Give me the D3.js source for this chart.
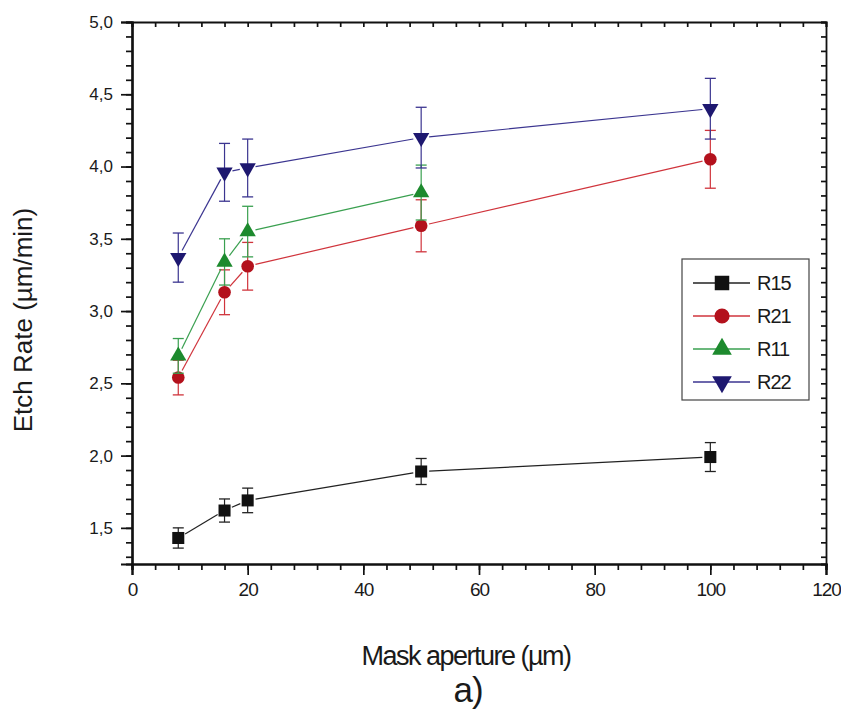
<!DOCTYPE html>
<html>
<head>
<meta charset="utf-8">
<script src="https://cdn.jsdelivr.net/npm/d3@7"></script>
<style>
  body { margin: 0; background: #fff; }
  text { font-family: "Liberation Sans", Arial, sans-serif; fill: #1a1a1a; }
  .yax .tick text { font-size: 17px !important; }
  .xax .tick text { font-size: 19px !important; letter-spacing: -1px; }
</style>
</head>
<body>
<div id="chart"></div>
<script>
// data
var apertures = [8, 16, 20, 50, 100];
var seriesNames = ["R15", "R21", "R11", "R22"];
var r15 = [1.43, 1.62, 1.69, 1.89, 1.99];
var r15Err = [0.07, 0.08, 0.085, 0.09, 0.1];
var r21 = [2.54, 3.13, 3.31, 3.59, 4.05];
var r21Err = [0.12, 0.155, 0.165, 0.18, 0.2];
var r11 = [2.69, 3.34, 3.55, 3.82];
var r11Err = [0.12, 0.16, 0.175, 0.19];
var r22 = [3.37, 3.96, 3.99, 4.20, 4.40];
var r22Err = [0.17, 0.2, 0.2, 0.21, 0.21];
var xTicks = [0, 20, 40, 60, 80, 100, 120];
var yTicks = [1.5, 2.0, 2.5, 3.0, 3.5, 4.0, 4.5, 5.0];

var W = 841, H = 710;
var margin = {left: 132, right: 15, top: 22, bottom: 146};

var svg = d3.select("#chart").append("svg")
    .attr("width", W).attr("height", H);

var x = d3.scaleLinear().domain([0, 120]).range([margin.left, W - margin.right]);
var y = d3.scaleLinear().domain([1.25, 5.0]).range([H - margin.bottom, margin.top]);

var fmt = function(d){ return d3.format(".1f")(d).replace(".", ","); };

// build series table for the drawing code
var colors = ["#111111", "#b3111c", "#1d8a2e", "#1e1870"];
var lineColors = ["#222222", "#d0343c", "#3aa050", "#3b3590"];
var shapes = ["square", "circle", "up", "down"];
var valueLists = [r15, r21, r11, r22];
var errLists = [r15Err, r21Err, r11Err, r22Err];
var series = seriesNames.map(function(n, k){
    return {name: n, color: colors[k], line: lineColors[k], shape: shapes[k],
        points: valueLists[k].map(function(v, i){ return {x: apertures[i], y: v, e: errLists[k][i]}; })};
});

function symbolFor(shape, big){
    var f = big ? 1.45 : 1;
    if (shape == "square") return d3.symbol().type(d3.symbolSquare).size(145 * f);
    if (shape == "circle") return d3.symbol().type(d3.symbolCircle).size(125 * f);
    return d3.symbol().type(d3.symbolTriangle).size(115 * f);
}
function transformFor(shape, px, py){
    if (shape == "down") return "translate(" + px + "," + py + ") rotate(180)";
    return "translate(" + px + "," + py + ")";
}

// axes
var xMinor = d3.range(0, 121, 4);
var yMinor = d3.range(1.3, 5.0001, 0.1);

var bottomAxis = svg.append("g").attr("class", "xax").attr("transform", "translate(0," + y.range()[0] + ")");
bottomAxis.call(d3.axisBottom(x).tickValues(xMinor).tickSize(6).tickFormat(""));
bottomAxis.append("g").call(d3.axisBottom(x).tickValues(xTicks).tickSize(11).tickPadding(8).tickFormat(d3.format("d")));

var leftAxis = svg.append("g").attr("class", "yax").attr("transform", "translate(" + x.range()[0] + ",0)");
leftAxis.call(d3.axisLeft(y).tickValues(yMinor).tickSize(6).tickFormat(""));
leftAxis.append("g").call(d3.axisLeft(y).tickValues(yTicks).tickSize(11).tickPadding(8).tickFormat(fmt));

var topAxis = svg.append("g").attr("transform", "translate(0," + y.range()[1] + ")");
topAxis.call(d3.axisBottom(x).tickValues(xMinor).tickSize(5).tickFormat(""));
var rightAxis = svg.append("g").attr("transform", "translate(" + x.range()[1] + ",0)");
rightAxis.call(d3.axisLeft(y).tickValues(yMinor).tickSize(5).tickFormat(""));

svg.selectAll(".domain").attr("stroke", "#111").attr("stroke-width", 2.2);
svg.selectAll(".tick line").attr("stroke", "#111").attr("stroke-width", 1.7);
svg.selectAll(".tick text").attr("fill", "#1a1a1a");
topAxis.select(".domain").attr("stroke-width", 1.8);
rightAxis.select(".domain").attr("stroke-width", 1.8);

// series
var gap = 8;
series.forEach(function(s){
    var g = svg.append("g");
    // connecting segments stopped short of the markers
    for (var i = 0; i < s.points.length - 1; i++){
        var a = s.points[i], b = s.points[i + 1];
        var x1 = x(a.x), y1 = y(a.y), x2 = x(b.x), y2 = y(b.y);
        var len = Math.sqrt((x2 - x1) * (x2 - x1) + (y2 - y1) * (y2 - y1));
        var ux = (x2 - x1) / len, uy = (y2 - y1) / len;
        g.append("line")
            .attr("x1", x1 + ux * gap).attr("y1", y1 + uy * gap)
            .attr("x2", x2 - ux * gap).attr("y2", y2 - uy * gap)
            .attr("stroke", s.line).attr("stroke-width", 1.2);
    }
    // error bars
    var eb = g.selectAll(".eb").data(s.points).enter().append("g");
    eb.append("line")
        .attr("x1", function(d){ return x(d.x); })
        .attr("x2", function(d){ return x(d.x); })
        .attr("y1", function(d){ return y(d.y + d.e); })
        .attr("y2", function(d){ return y(d.y - d.e); })
        .attr("stroke", s.line).attr("stroke-width", 1.2);
    [1, -1].forEach(function(sign){
        eb.append("line")
            .attr("x1", function(d){ return x(d.x) - 5.5; })
            .attr("x2", function(d){ return x(d.x) + 5.5; })
            .attr("y1", function(d){ return y(d.y + sign * d.e); })
            .attr("y2", function(d){ return y(d.y + sign * d.e); })
            .attr("stroke", s.line).attr("stroke-width", 1.3);
    });
    // markers
    g.selectAll(".mk").data(s.points).enter().append("path")
        .attr("d", symbolFor(s.shape))
        .attr("transform", function(d){ return transformFor(s.shape, x(d.x), y(d.y)); })
        .attr("fill", s.color);
});

// legend
var lg = svg.append("g").attr("transform", "translate(682,259)");
lg.append("rect").attr("width", 127).attr("height", 141)
    .attr("fill", "#fff").attr("stroke", "#444").attr("stroke-width", 1.2);
series.forEach(function(s, i){
    var ry = 24 + i * 33;
    lg.append("line").attr("x1", 11).attr("x2", 68).attr("y1", ry).attr("y2", ry)
        .attr("stroke", s.line).attr("stroke-width", 1.3);
    lg.append("path").attr("d", symbolFor(s.shape, true))
        .attr("transform", transformFor(s.shape, 40, ry)).attr("fill", s.color);
    lg.append("text").attr("x", 75).attr("y", ry + 7)
        .style("font-size", "20px").style("letter-spacing", "-1px").text(s.name);
});

// axis titles
svg.append("text")
    .attr("transform", "translate(32,320) rotate(-90)")
    .attr("text-anchor", "middle").style("font-size", "26px")
    .text("Etch Rate (µm/min)");
svg.append("text")
    .attr("x", 466).attr("y", 665)
    .attr("text-anchor", "middle").style("font-size", "27px").style("letter-spacing", "-1.5px")
    .text("Mask aperture (µm)");
svg.append("text")
    .attr("x", 468).attr("y", 702)
    .attr("text-anchor", "middle").style("font-size", "35px").style("letter-spacing", "-1px")
    .text("a)");
</script>
</body>
</html>
